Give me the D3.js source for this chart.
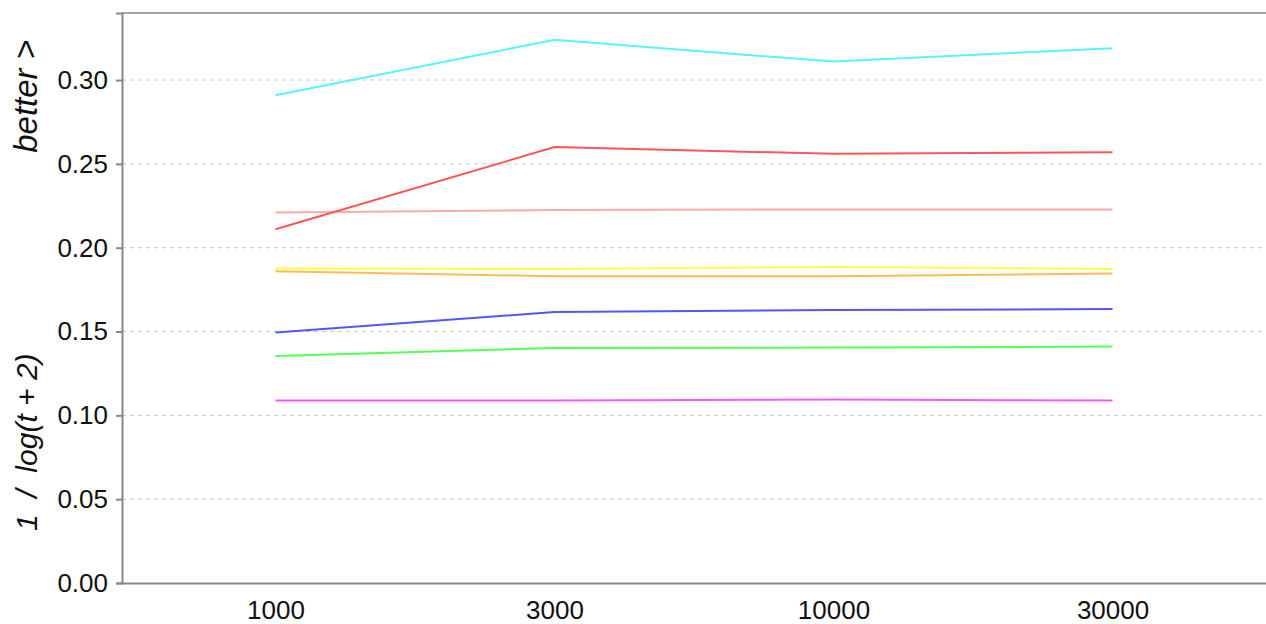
<!DOCTYPE html>
<html>
<head>
<meta charset="utf-8">
<script src="https://cdn.jsdelivr.net/npm/d3@7"></script>
<style>
  body { margin: 0; background: #fff; }
  text { font-family: "Liberation Sans", Arial, sans-serif; }
</style>
</head>
<body>
<div id="vis1"></div>
<script>
const FRAME_HEIGHT = 624;
const FRAME_WIDTH = 1266;
const MARGINS = {left: 122, right: 0, top: 13, bottom: 41};

const VIS_HEIGHT = FRAME_HEIGHT - MARGINS.top - MARGINS.bottom;
const VIS_WIDTH = FRAME_WIDTH - MARGINS.left - MARGINS.right;

// data
const steps = ["1000", "3000", "10000", "30000"];
const cyan    = [0.291, 0.324, 0.311, 0.319];
const red     = [0.211, 0.260, 0.256, 0.257];
const pink    = [0.221, 0.2225, 0.2228, 0.2228];
const yellow  = [0.1876, 0.1873, 0.1885, 0.1873];
const orange  = [0.186, 0.183, 0.183, 0.1846];
const blue    = [0.1494, 0.1616, 0.1628, 0.1634];
const green   = [0.1354, 0.1402, 0.1404, 0.141];
const magenta = [0.1088, 0.1088, 0.1094, 0.1088];
const y_ticks = [0, 0.05, 0.10, 0.15, 0.20, 0.25, 0.30];

const series = [
  {name: "pink", values: pink, color: "#ffaaaa"},
  {name: "orange", values: orange, color: "#ffbb55"},
  {name: "yellow", values: yellow, color: "#ffff44"},
  {name: "magenta", values: magenta, color: "#ff55ff"},
  {name: "green", values: green, color: "#55ff55"},
  {name: "blue", values: blue, color: "#5555ff"},
  {name: "red", values: red, color: "#ff5555"},
  {name: "cyan", values: cyan, color: "#55f5ff"}
];

const FRAME1 = d3.select("#vis1")
                  .append("svg")
                    .attr("height", FRAME_HEIGHT)
                    .attr("width", FRAME_WIDTH)
                    .attr("class", "frame");

const g = FRAME1.append("g")
    .attr("transform", `translate(${MARGINS.left}, ${MARGINS.top})`);

const x_scale = d3.scalePoint()
    .domain(steps)
    .range([0, VIS_WIDTH])
    .padding(0.55);

const y_scale = d3.scaleLinear()
    .domain([0, 0.34])
    .range([VIS_HEIGHT, 0]);

// dashed grid lines
g.selectAll(".grid")
  .data(y_ticks.filter(d => d > 0))
  .join("line")
    .attr("x1", 0)
    .attr("x2", VIS_WIDTH)
    .attr("y1", d => y_scale(d))
    .attr("y2", d => y_scale(d))
    .attr("stroke", "#c8c8c8")
    .attr("stroke-width", 1)
    .attr("stroke-dasharray", "4,4");

// top border
g.append("line")
  .attr("x1", 0).attr("x2", VIS_WIDTH)
  .attr("y1", 0).attr("y2", 0)
  .attr("stroke", "#888").attr("stroke-width", 1.5);

// Y axis
const yAxis = g.append("g")
  .call(d3.axisLeft(y_scale).tickValues(y_ticks).tickFormat(d3.format(".2f")).tickSize(6).tickPadding(8));
yAxis.select(".domain").attr("stroke", "#888").attr("stroke-width", 2);
yAxis.selectAll(".tick line").attr("stroke", "#888").attr("stroke-width", 2);
yAxis.selectAll(".tick text").style("font-size", "26px").attr("fill", "#111")
  .style("font-family", "Liberation Sans, Arial, sans-serif");

// X axis
const xAxis = g.append("g")
  .attr("transform", `translate(0, ${VIS_HEIGHT})`)
  .call(d3.axisBottom(x_scale).tickSize(0).tickPadding(17.5));
xAxis.select(".domain").attr("stroke", "#888").attr("stroke-width", 2);
xAxis.selectAll(".tick text").style("font-size", "26px").attr("fill", "#111")
  .style("font-family", "Liberation Sans, Arial, sans-serif");

// Draw the lines
const line = d3.line()
  .x((d, i) => x_scale(steps[i]))
  .y(d => y_scale(d));

g.selectAll(".line")
  .data(series)
  .join("path")
    .attr("class", "line")
    .attr("fill", "none")
    .attr("stroke", d => d.color)
    .attr("stroke-width", 2)
    .attr("d", d => line(d.values));

// y axis titles
FRAME1.append("text")
  .attr("transform", "translate(37, 531) rotate(-90)")
  .attr("text-anchor", "start")
  .style("font-size", "30px")
  .style("font-style", "italic")
  .style("white-space", "pre")
  .attr("fill", "#111")
  .text("1  /  log(t + 2)");

FRAME1.append("text")
  .attr("transform", "translate(37, 40) rotate(-90)")
  .attr("text-anchor", "end")
  .style("font-size", "33px")
  .style("font-style", "italic")
  .attr("fill", "#111")
  .text("better >");
</script>
</body>
</html>
